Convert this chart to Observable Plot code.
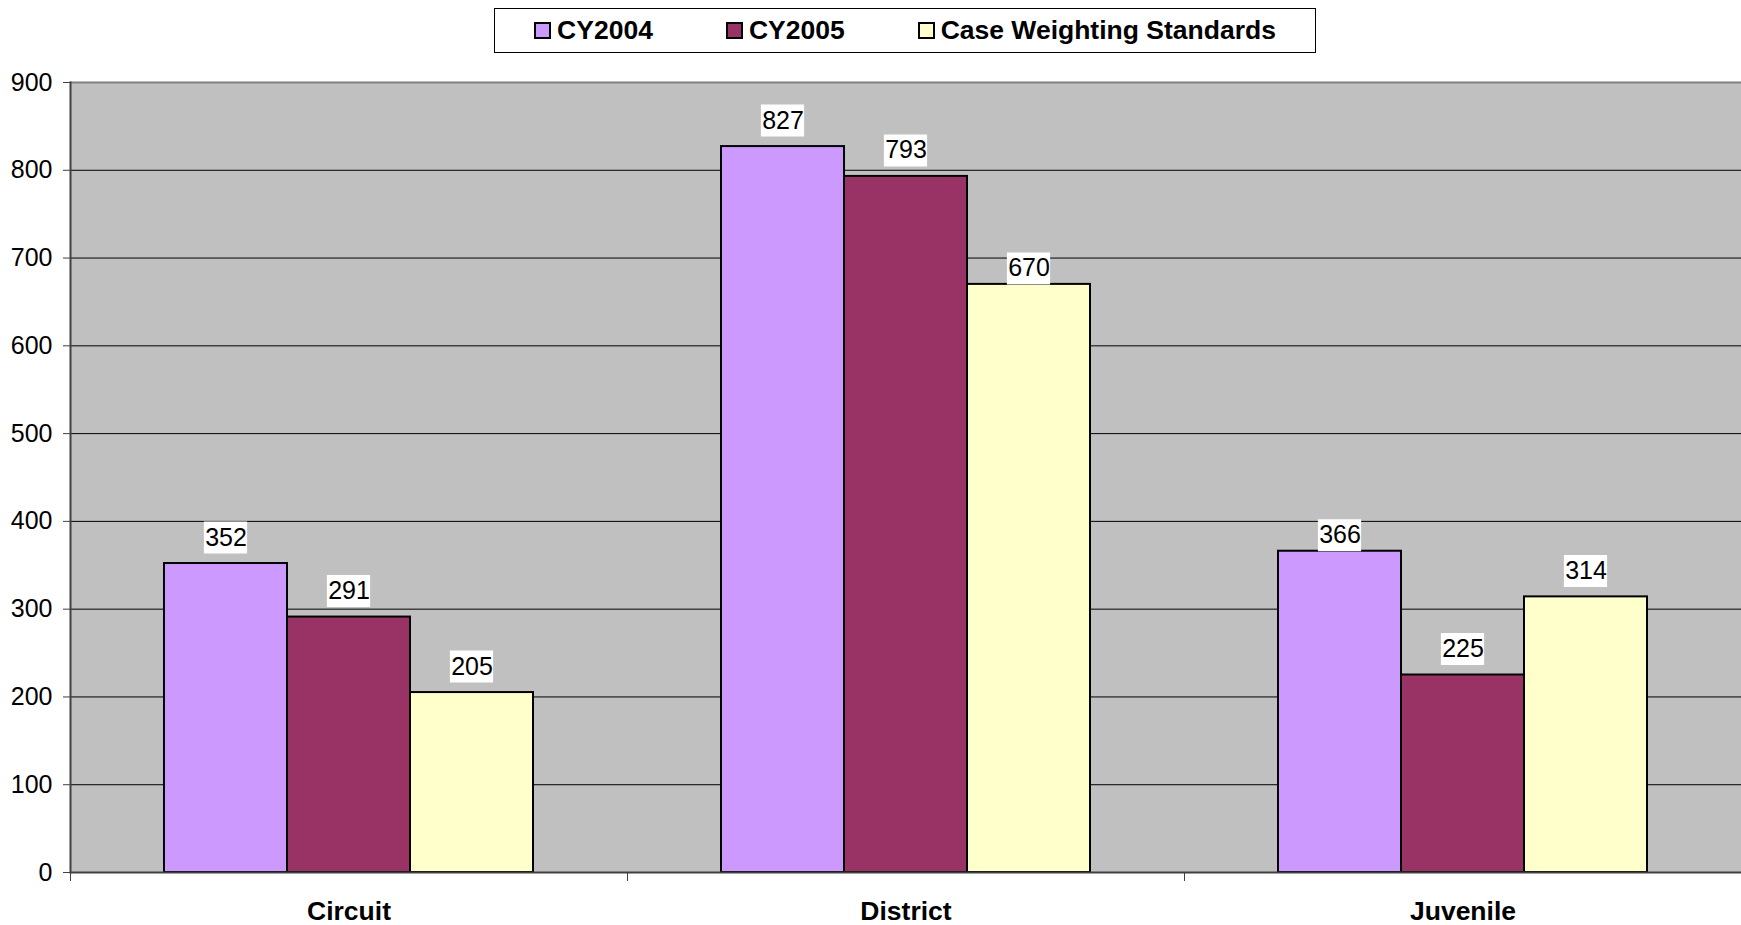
<!DOCTYPE html>
<html>
<head>
<meta charset="utf-8">
<script src="https://cdn.jsdelivr.net/npm/d3@7"></script>
<script src="https://cdn.jsdelivr.net/npm/@observablehq/plot@0.6"></script>
<style>
  body { margin: 0; background: #fff; font-family: "Liberation Sans", Arial, sans-serif; }
  #legend-row { position: relative; height: 60px; }
  #legend {
    position: absolute; left: 494px; top: 8px; width: 820px; height: 43px;
    border: 1px solid #000; display: flex; align-items: center; justify-content: center;
    gap: 73px; font-weight: bold; font-size: 26.5px; color: #000;
  }
  .item { display: flex; align-items: center; gap: 6px; }
  .swatch { width: 13px; height: 13px; border: 2px solid #000; }
</style>
</head>
<body>
<div id="legend-row"><div id="legend"></div></div>
<div id="chart"></div>
<script>
// Court categories and the three series compared in each
const categories = ["Circuit", "District", "Juvenile"];
const seriesNames = ["CY2004", "CY2005", "Case Weighting Standards"];
const cy2004 = [352, 827, 366];
const cy2005 = [291, 793, 225];
const standards = [205, 670, 314];
const yTicks = [0, 100, 200, 300, 400, 500, 600, 700, 800, 900];
const seriesColors = ["#CC99FF", "#993366", "#FFFFCC"];

// value labels that rest directly on top of their bar
const seatedLabels = [["District", "Case Weighting Standards"], ["Juvenile", "CY2004"]];

const seriesValues = [cy2004, cy2005, standards];
const rows = categories.flatMap((category, i) =>
  seriesNames.map((series, j) => ({category, series, value: seriesValues[j][i]}))
);
const isSeated = d => seatedLabels.some(([c, s]) => c === d.category && s === d.series);

// legend
const legend = document.getElementById("legend");
seriesNames.forEach((name, j) => {
  const item = document.createElement("div");
  item.className = "item";
  const sw = document.createElement("div");
  sw.className = "swatch";
  sw.style.background = seriesColors[j];
  const label = document.createElement("span");
  label.textContent = name;
  item.append(sw, label);
  legend.append(item);
});

const W = 1741, H = 865, mL = 70, mR = 0, mT = 22, mB = 53;
const bandW = (W - mL - mR) / categories.length;
const barW = bandW / 4.5;
const boxW = 44, boxH = 32;
const labelOpts = (dy) => ({fx: "category", x: "series", y: "value", dy});
const boxOpts = {stroke: "#fff", strokeWidth: boxH, insetLeft: (barW - boxW) / 2, insetRight: (barW - boxW) / 2};

const chart = Plot.plot({
  width: W,
  height: H,
  marginLeft: mL,
  marginRight: mR,
  marginTop: mT,
  marginBottom: mB,
  style: {fontFamily: "Liberation Sans, Arial, sans-serif", fontSize: "25px", color: "#000", background: "#fff", overflow: "visible"},
  fx: {domain: categories, padding: 0, label: null},
  x: {domain: seriesNames, paddingInner: 0, paddingOuter: 0.75, axis: null, label: null},
  y: {domain: [0, 900], label: null},
  color: {domain: seriesNames, range: seriesColors},
  marks: [
    // plot area background, one rectangle across all facets
    Plot.frame({fill: "#C0C0C0", stroke: null, facet: "super"}),
    Plot.ruleY(yTicks.filter(t => t > 0 && t < 900), {stroke: "#000", strokeWidth: 1}),
    Plot.ruleY([900], {stroke: "#808080", strokeWidth: 2}),
    Plot.barY(rows, {fx: "category", x: "series", y: "value", fill: "series", stroke: "#000", strokeWidth: 2}),
    Plot.ruleY([0], {stroke: "#404040", strokeWidth: 2}),
    Plot.frame({anchor: "left", facet: "super", stroke: "#404040", strokeWidth: 2}),
    Plot.axisY({ticks: yTicks, tickSize: 7, tickPadding: 11, fontSize: 25, label: null, stroke: "#404040"}),
    // category boundary ticks
    Plot.axisFx({anchor: "bottom", tickSize: 9, tickFormat: () => "", dx: -bandW / 2, label: null, stroke: "#404040"}),
    Plot.axisFx({anchor: "bottom", tickSize: 0, tickPadding: 29, fontSize: 26.5, fontWeight: "bold", label: null}),
    // white boxes behind the value labels
    Plot.tickY(rows.filter(d => !isSeated(d)), {...labelOpts(-(10 + boxH / 2)), ...boxOpts}),
    Plot.tickY(rows.filter(isSeated), {...labelOpts(-boxH / 2), ...boxOpts}),
    Plot.text(rows.filter(d => !isSeated(d)), {...labelOpts(-(10 + boxH / 2)), text: d => String(d.value), fill: "#000", fontSize: 25}),
    Plot.text(rows.filter(isSeated), {...labelOpts(-boxH / 2), text: d => String(d.value), fill: "#000", fontSize: 25})
  ]
});
document.getElementById("chart").append(chart);
</script>
</body>
</html>
